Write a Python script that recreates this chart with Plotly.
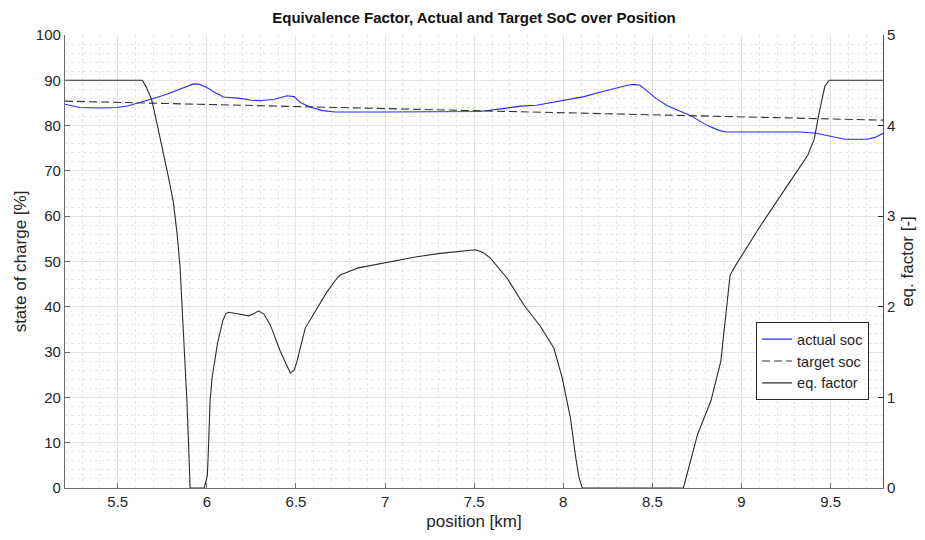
import plotly.graph_objects as go

# Position along the route [km]
pos_range = [5.204, 9.794]

# Actual state of charge [%]
soc_pos = [5.204, 5.288, 5.40, 5.494, 5.56, 5.625, 5.70, 5.775, 5.85, 5.90, 5.925, 5.96, 6.0, 6.05,
           6.093, 6.187, 6.25, 6.3, 6.38, 6.45, 6.49, 6.524, 6.58, 6.65, 6.72, 7.0, 7.3, 7.53,
           7.65, 7.76, 7.85, 7.929, 8.02, 8.116, 8.21, 8.303, 8.36, 8.397, 8.43, 8.46, 8.52,
           8.584, 8.65, 8.715, 8.809, 8.87, 8.912, 9.1, 9.333, 9.42, 9.483, 9.577, 9.65, 9.707,
           9.75, 9.794]
soc_val = [84.7, 84.0, 83.9, 84.0, 84.4, 85.1, 86.0, 86.9, 88.0, 88.9, 89.2, 89.1, 88.4, 87.2,
           86.3, 86.0, 85.6, 85.5, 85.8, 86.6, 86.4, 85.1, 84.1, 83.3, 83.0, 83.0, 83.0, 83.1,
           83.7, 84.3, 84.5, 85.1, 85.7, 86.4, 87.4, 88.4, 88.9, 89.1, 88.9, 88.0, 86.0,
           84.4, 83.3, 82.2, 80.0, 79.0, 78.6, 78.6, 78.6, 78.3, 77.8, 77.0, 77.0, 77.0,
           77.4, 78.3]

# Target state of charge [%]
target_pos = [5.204, 9.794]
target_val = [85.4, 81.2]

# Equivalence factor [-]
eq_pos = [5.204, 5.638, 5.66, 5.69, 5.72, 5.756, 5.785, 5.812, 5.832, 5.85, 5.86, 5.869, 5.878,
          5.888, 5.897, 5.906, 5.985, 6.003, 6.01, 6.018, 6.03, 6.047, 6.06, 6.075, 6.09, 6.105,
          6.121, 6.18, 6.234, 6.265, 6.29, 6.32, 6.356, 6.412, 6.468,
          6.49, 6.506, 6.552, 6.618, 6.674, 6.73, 6.749, 6.85, 7.03, 7.17, 7.31, 7.42, 7.507,
          7.55, 7.592, 7.685, 7.779, 7.873, 7.947, 7.994, 8.04, 8.07, 8.088, 8.107, 8.674,
          8.753, 8.828, 8.884, 8.921, 8.936, 8.968, 9.108, 9.258, 9.371, 9.408, 9.436, 9.468,
          9.492, 9.794]
eq_val = [4.5, 4.5, 4.425, 4.29, 4.025, 3.705, 3.425, 3.155, 2.825, 2.425, 2.075, 1.69, 1.325,
          0.96, 0.5, 0.0, 0.0, 0.135, 0.5, 0.96, 1.225, 1.435, 1.6, 1.725, 1.85, 1.92,
          1.94, 1.92, 1.90, 1.925, 1.955, 1.92, 1.80, 1.51, 1.27,
          1.30, 1.40, 1.765, 1.985, 2.165, 2.315, 2.35, 2.43, 2.495, 2.55, 2.59, 2.615, 2.63,
          2.60, 2.535, 2.315, 2.02, 1.78, 1.545, 1.215, 0.775, 0.335, 0.115, 0.0, 0.0,
          0.59, 0.96, 1.40, 2.055, 2.35, 2.46, 2.90, 3.34, 3.67, 3.85, 4.145, 4.435,
          4.5, 4.5]

TXT = "#262626"
AXIS = "#6e6e6e"
GRID = "#e3e3e3"
MINOR = "#e6e6e6"
FONT = "Liberation Sans, Arial, sans-serif"

fig = go.Figure()
fig.add_trace(go.Scatter(x=soc_pos, y=soc_val, name="actual soc", mode="lines",
                         line=dict(color="#2a2aff", width=1.1)))
fig.add_trace(go.Scatter(x=target_pos, y=target_val, name="target soc", mode="lines",
                         line=dict(color="#333333", width=1.1, dash="8px,4px")))
fig.add_trace(go.Scatter(x=eq_pos, y=eq_val, name="eq. factor", mode="lines", yaxis="y2",
                         line=dict(color="#2b2b2b", width=1.1)))

fig.update_layout(
    width=925, height=540,
    margin=dict(l=65, r=42, t=35, b=50),
    paper_bgcolor="white", plot_bgcolor="white",
    font=dict(family=FONT, size=14, color=TXT),
    title=dict(text="<b>Equivalence Factor, Actual and Target SoC over Position</b>",
               x=(65 + 883) / 2 / 925, xanchor="center", y=1 - 18 / 540, yanchor="middle",
               font=dict(size=15, color="#111111")),
    showlegend=True,
    legend=dict(x=0.983, y=0.366, xanchor="right", yanchor="top",
                bgcolor="white", bordercolor="#262626", borderwidth=1,
                font=dict(size=14.5, color=TXT), tracegroupgap=0,
                itemwidth=30),
    xaxis=dict(range=pos_range, tickvals=[5.5, 6, 6.5, 7, 7.5, 8, 8.5, 9, 9.5],
               ticktext=["5.5", "6", "6.5", "7", "7.5", "8", "8.5", "9", "9.5"],
               ticks="inside", ticklen=5, tickcolor=AXIS,
               showline=True, linecolor=AXIS, linewidth=1.2, mirror=False,
               showgrid=True, gridcolor=GRID, gridwidth=1, zeroline=False,
               minor=dict(dtick=0.1, tick0=5.0, showgrid=True, gridcolor=MINOR,
                          griddash="dot", gridwidth=1),
               title=dict(text="position [km]", standoff=6, font=dict(size=17, color=TXT)),
               tickfont=dict(size=15, color=TXT)),
    yaxis=dict(range=[0, 100], dtick=10, tick0=0,
               ticks="inside", ticklen=5, tickcolor=AXIS,
               showline=True, linecolor=AXIS, linewidth=1.2,
               showgrid=True, gridcolor=GRID, gridwidth=1, zeroline=False,
               minor=dict(dtick=2, showgrid=True, gridcolor=MINOR, griddash="dot", gridwidth=1),
               title=dict(text="state of charge [%]", standoff=4, font=dict(size=17, color=TXT)),
               tickfont=dict(size=15, color=TXT)),
    yaxis2=dict(range=[0, 5], dtick=1, tick0=0, overlaying="y", side="right",
                ticks="inside", ticklen=5, tickcolor="#262626",
                showline=True, linecolor="#555555", linewidth=1.2,
                showgrid=False, zeroline=False,
                title=dict(text="eq. factor [-]", standoff=6, font=dict(size=17, color=TXT)),
                tickfont=dict(size=15, color=TXT)),
)

fig.write_html("out.html")
